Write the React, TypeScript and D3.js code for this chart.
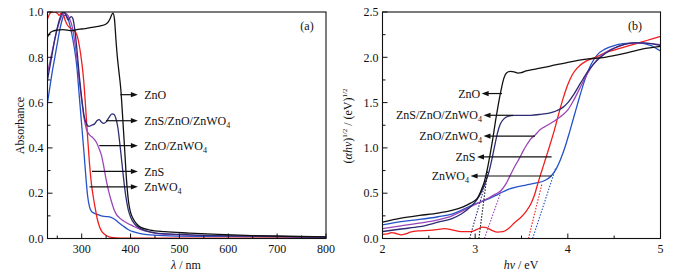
import React from 'react';
import * as d3 from 'd3';

const W = 685, H = 275;
const FONT = '"Liberation Serif", "Times New Roman", serif';

// ---------- Panel (a): UV-vis absorbance ----------
const uvTicksX = [300, 400, 500, 600, 700, 800];
const uvMinorX = [250, 350, 450, 550, 650, 750];
const uvTicksY = [0, 0.2, 0.4, 0.6, 0.8, 1.0];
const uvMinorY = [0.1, 0.3, 0.5, 0.7, 0.9];

const uvZnO: [number, number][] = [
  [230, 0.89], [234, 0.905], [240, 0.915], [250, 0.92], [260, 0.922], [270, 0.92], [280, 0.918],
  [290, 0.922], [300, 0.925], [310, 0.928], [320, 0.932], [330, 0.935], [340, 0.94], [348, 0.945],
  [354, 0.955], [358, 0.97], [362, 0.99], [364, 0.995], [367, 0.97], [370, 0.88], [373, 0.8],
  [376, 0.74], [380, 0.66], [384, 0.53], [388, 0.39], [392, 0.25], [396, 0.16], [400, 0.115],
  [405, 0.088], [412, 0.065], [420, 0.05], [440, 0.037], [470, 0.03], [520, 0.024], [580, 0.018],
  [650, 0.013], [720, 0.01], [800, 0.007],
];
const uvTernary: [number, number][] = [
  [230, 0.70], [235, 0.76], [240, 0.82], [245, 0.88], [250, 0.93], [255, 0.97], [260, 0.995],
  [264, 1.0], [268, 0.985], [272, 0.965], [276, 0.975], [279, 0.98], [282, 0.97], [286, 0.92],
  [290, 0.84], [295, 0.72], [300, 0.62], [305, 0.54], [310, 0.505], [315, 0.495], [320, 0.5],
  [326, 0.505], [331, 0.52], [336, 0.525], [340, 0.515], [345, 0.508], [350, 0.515], [356, 0.535],
  [362, 0.55], [366, 0.548], [370, 0.53], [374, 0.49], [378, 0.42], [382, 0.34], [386, 0.26],
  [390, 0.19], [395, 0.13], [400, 0.095], [408, 0.065], [418, 0.047], [430, 0.035], [450, 0.025],
  [500, 0.018], [600, 0.012], [700, 0.009], [800, 0.006],
];
const uvZnOZnWO4: [number, number][] = [
  [230, 0.73], [235, 0.78], [240, 0.83], [245, 0.88], [250, 0.925], [255, 0.96], [260, 0.985],
  [265, 0.995], [270, 0.99], [275, 0.97], [280, 0.94], [285, 0.88], [290, 0.8], [295, 0.7],
  [300, 0.61], [305, 0.53], [310, 0.48], [315, 0.46], [320, 0.45], [325, 0.44], [330, 0.425],
  [335, 0.4], [340, 0.37], [345, 0.32], [350, 0.26], [355, 0.21], [360, 0.17], [365, 0.135],
  [370, 0.11], [378, 0.09], [390, 0.072], [405, 0.055], [420, 0.04], [440, 0.028], [460, 0.02],
  [500, 0.016], [600, 0.012], [700, 0.009], [800, 0.006],
];
const uvZnS: [number, number][] = [
  [230, 0.97], [234, 0.99], [238, 1.0], [245, 1.0], [250, 0.995], [254, 0.985], [258, 0.995],
  [262, 0.99], [266, 0.965], [270, 0.945], [276, 0.93], [283, 0.92], [290, 0.9], [296, 0.84],
  [300, 0.78], [304, 0.7], [308, 0.58], [312, 0.45], [316, 0.33], [320, 0.24], [324, 0.18],
  [328, 0.13], [332, 0.085], [336, 0.055], [340, 0.035], [346, 0.02], [352, 0.011], [360, 0.005],
  [380, 0.002], [500, 0.002], [800, 0.001],
];
const uvZnWO4: [number, number][] = [
  [230, 0.6], [235, 0.67], [240, 0.74], [245, 0.8], [250, 0.86], [255, 0.92], [260, 0.965],
  [264, 0.985], [268, 0.985], [272, 0.97], [276, 0.94], [280, 0.9], [285, 0.84], [290, 0.76],
  [295, 0.63], [300, 0.5], [305, 0.37], [309, 0.26], [312, 0.19], [316, 0.14], [320, 0.12],
  [325, 0.112], [330, 0.108], [340, 0.1], [350, 0.097], [360, 0.093], [368, 0.084], [376, 0.07],
  [385, 0.055], [395, 0.04], [405, 0.03], [420, 0.022], [440, 0.016], [480, 0.012], [600, 0.009],
  [700, 0.007], [800, 0.005],
];

// ---------- Panel (b): Tauc plot ----------
const tcTicksX = [2, 3, 4, 5];
const tcMinorX = [2.5, 3.5, 4.5];
const tcTicksY = [0, 0.5, 1.0, 1.5, 2.0, 2.5];
const tcMinorY = [0.25, 0.75, 1.25, 1.75, 2.25];

const tcZnO: [number, number][] = [
  [2.0, 0.18], [2.2, 0.225], [2.4, 0.255], [2.6, 0.28], [2.75, 0.31], [2.87, 0.35], [2.95, 0.39],
  [3.02, 0.44], [3.06, 0.52], [3.1, 0.63], [3.13, 0.76], [3.16, 0.92], [3.19, 1.1], [3.22, 1.3],
  [3.25, 1.48], [3.28, 1.64], [3.31, 1.77], [3.34, 1.83], [3.38, 1.845], [3.42, 1.84], [3.46, 1.825],
  [3.5, 1.83], [3.55, 1.85], [3.65, 1.87], [3.8, 1.9], [4.0, 1.945], [4.2, 1.98], [4.4, 2.0],
  [4.6, 2.04], [4.8, 2.09], [5.0, 2.12],
];
const tcTernary: [number, number][] = [
  [2.0, 0.077], [2.2, 0.105], [2.4, 0.13], [2.6, 0.18], [2.75, 0.22], [2.85, 0.27], [2.95, 0.35],
  [3.02, 0.43], [3.07, 0.52], [3.11, 0.62], [3.15, 0.74], [3.18, 0.87], [3.21, 1.02], [3.24, 1.16],
  [3.27, 1.26], [3.31, 1.32], [3.36, 1.35], [3.42, 1.36], [3.5, 1.358], [3.6, 1.36], [3.7, 1.37],
  [3.8, 1.385], [3.88, 1.41], [3.95, 1.45], [4.0, 1.5], [4.07, 1.6], [4.14, 1.72], [4.22, 1.85],
  [4.3, 1.95], [4.4, 2.04], [4.5, 2.1], [4.6, 2.14], [4.7, 2.16], [4.8, 2.16], [4.9, 2.15], [5.0, 2.13],
];
const tcZnOZnWO4: [number, number][] = [
  [2.0, 0.11], [2.2, 0.14], [2.4, 0.17], [2.6, 0.205], [2.75, 0.25], [2.85, 0.3], [2.95, 0.35],
  [3.05, 0.4], [3.15, 0.45], [3.22, 0.49], [3.28, 0.53], [3.33, 0.6], [3.38, 0.7], [3.43, 0.8],
  [3.48, 0.89], [3.52, 0.97], [3.56, 1.04], [3.6, 1.1], [3.645, 1.14], [3.7, 1.2], [3.78, 1.25],
  [3.86, 1.3], [3.94, 1.36], [4.0, 1.42], [4.06, 1.52], [4.13, 1.66], [4.2, 1.8], [4.28, 1.93],
  [4.36, 2.02], [4.45, 2.08], [4.55, 2.12], [4.65, 2.15], [4.8, 2.16], [4.9, 2.15], [5.0, 2.14],
];
const tcZnS: [number, number][] = [
  [2.0, 0.045], [2.05, 0.05], [2.1, 0.065], [2.15, 0.055], [2.2, 0.04], [2.25, 0.05], [2.3, 0.07],
  [2.4, 0.085], [2.5, 0.09], [2.6, 0.1], [2.67, 0.108], [2.75, 0.095], [2.85, 0.075], [2.95, 0.075],
  [3.02, 0.1], [3.08, 0.125], [3.12, 0.12], [3.18, 0.09], [3.24, 0.07], [3.3, 0.075], [3.36, 0.11],
  [3.43, 0.18], [3.5, 0.24], [3.55, 0.3], [3.6, 0.38], [3.64, 0.48], [3.68, 0.62], [3.72, 0.75],
  [3.76, 0.88], [3.8, 1.01], [3.85, 1.18], [3.9, 1.37], [3.95, 1.55], [4.0, 1.7], [4.05, 1.81],
  [4.1, 1.88], [4.2, 1.96], [4.3, 2.0], [4.4, 2.05], [4.5, 2.08], [4.6, 2.11], [4.7, 2.14],
  [4.8, 2.17], [4.9, 2.2], [5.0, 2.23],
];
const tcZnWO4: [number, number][] = [
  [2.0, 0.15], [2.2, 0.187], [2.4, 0.21], [2.6, 0.24], [2.75, 0.27], [2.85, 0.31], [2.95, 0.36],
  [3.05, 0.4], [3.15, 0.44], [3.25, 0.49], [3.35, 0.54], [3.45, 0.57], [3.55, 0.59], [3.65, 0.61],
  [3.75, 0.64], [3.82, 0.69], [3.87, 0.76], [3.92, 0.87], [3.97, 1.01], [4.02, 1.18], [4.07, 1.36],
  [4.12, 1.54], [4.18, 1.74], [4.25, 1.92], [4.32, 2.03], [4.4, 2.09], [4.5, 2.13], [4.6, 2.15],
  [4.75, 2.16], [4.9, 2.13], [4.95, 2.1], [5.0, 2.07],
];

// tangent (extrapolation) lines: [x at 0, x end, y end]
const tangentZnO = [3.04, 3.135, 0.75];
const tangentTernary = [2.94, 3.13, 0.68];
const tangentZnOZnWO4 = [3.1, 3.28, 0.52];
const tangentZnS = [3.575, 3.72, 0.6];
const tangentZnWO4 = [3.62, 3.87, 0.78];

// labels
const seriesNames = ['ZnO', 'ZnS/ZnO/ZnWO4', 'ZnO/ZnWO4', 'ZnS', 'ZnWO4'];
const seriesColors = ['#111111', '#2c2c74', '#9a46b8', '#f01e1e', '#2452c8'];
const uvLabelY = [0.635, 0.52, 0.41, 0.296, 0.228];
const uvArrowFrom = [379, 350, 336, 321, 316];
const uvArrowTip = 415;
const uvTextX = 428;
const tcLabelY = [1.6, 1.36, 1.13, 0.9, 0.69];
const tcArrowTip = [3.07, 3.09, 3.09, 3.02, 2.95];
const tcArrowEnd = [3.29, 3.41, 3.645, 3.825, 3.825];

const uvData = [uvZnO, uvTernary, uvZnOZnWO4, uvZnS, uvZnWO4];
const tcData = [tcZnO, tcTernary, tcZnOZnWO4, tcZnS, tcZnWO4];
const tangents = [tangentZnO, tangentTernary, tangentZnOZnWO4, tangentZnS, tangentZnWO4];

function Label({ name, x, y, anchor }: { name: string; x: number; y: number; anchor: string }) {
  const sub = name.endsWith('WO4');
  const main = sub ? name.slice(0, -1) : name;
  return (
    <text x={x} y={y} dy="0.35em" textAnchor={anchor} fontSize={12} fontFamily={FONT} fill="#111">
      {main}
      {sub && <tspan fontSize={8} dy={3}>4</tspan>}
    </text>
  );
}

function Frame({ x, y, xTicks, xMinor, yTicks, yMinor, xFmt, yFmt }: any) {
  const [x0, x1] = x.range();
  const [y0, y1] = y.range();
  return (
    <g>
      <rect x={x0} y={y1} width={x1 - x0} height={y0 - y1} fill="none" stroke="#111" strokeWidth={1.1} />
      {xTicks.map((t: number) => (
        <g key={'xt' + t}>
          <line x1={x(t)} x2={x(t)} y1={y0} y2={y0 - 5} stroke="#111" />
          <text x={x(t)} y={y0 + 14.5} textAnchor="middle" fontSize={12} fontFamily={FONT} fill="#111">{xFmt(t)}</text>
        </g>
      ))}
      {xMinor.map((t: number) => (
        <line key={'xm' + t} x1={x(t)} x2={x(t)} y1={y0} y2={y0 - 3} stroke="#111" />
      ))}
      {yTicks.map((t: number) => (
        <g key={'yt' + t}>
          <line x1={x0} x2={x0 + 5} y1={y(t)} y2={y(t)} stroke="#111" />
          <text x={x0 - 4} y={y(t)} dy="0.35em" textAnchor="end" fontSize={12} fontFamily={FONT} fill="#111">{yFmt(t)}</text>
        </g>
      ))}
      {yMinor.map((t: number) => (
        <line key={'ym' + t} x1={x0} x2={x0 + 3} y1={y(t)} y2={y(t)} stroke="#111" />
      ))}
    </g>
  );
}

function Arrow({ x1, x2, y, dir }: { x1: number; x2: number; y: number; dir: number }) {
  // x2 = tip; dir = +1 pointing right, -1 pointing left
  const L = 7, hw = 2.6;
  return (
    <g>
      <line x1={x1} x2={x2 - dir * L * 0.6} y1={y} y2={y} stroke="#111" strokeWidth={1.2} />
      <path d={`M${x2},${y} L${x2 - dir * L},${y - hw} L${x2 - dir * L},${y + hw} Z`} fill="#111" />
    </g>
  );
}

export default function App() {
  const xA = d3.scaleLinear().domain([230, 800]).range([47.5, 326]);
  const yA = d3.scaleLinear().domain([0, 1]).range([238.5, 12]);
  const xB = d3.scaleLinear().domain([2, 5]).range([382.5, 660.5]);
  const yB = d3.scaleLinear().domain([0, 2.5]).range([238.5, 12]);

  const lineA = d3.line<[number, number]>().x(d => xA(d[0])).y(d => yA(d[1])).curve(d3.curveMonotoneX);
  const lineB = d3.line<[number, number]>().x(d => xB(d[0])).y(d => yB(d[1])).curve(d3.curveMonotoneX);

  const order = [4, 3, 2, 1, 0];

  return (
    <svg width={W} height={H} style={{ position: 'absolute', left: 0, top: 0, background: '#fff' }}>
      <defs>
        <clipPath id="clipA"><rect x={47.5} y={12} width={326 - 47.5} height={238.5 - 12} /></clipPath>
        <clipPath id="clipB"><rect x={382.5} y={12} width={660.5 - 382.5} height={238.5 - 12} /></clipPath>
      </defs>
      <rect width={W} height={H} fill="#fff" />

      {/* Panel a */}
      <g clipPath="url(#clipA)">
        {order.map(i => (
          <path key={'a' + i} d={lineA(uvData[i]) || ''} fill="none" stroke={seriesColors[i]} strokeWidth={1.3} />
        ))}
      </g>
      <Frame x={xA} y={yA} xTicks={uvTicksX} xMinor={uvMinorX} yTicks={uvTicksY} yMinor={uvMinorY}
        xFmt={(t: number) => String(t)} yFmt={(t: number) => t.toFixed(1)} />
      {seriesNames.map((n, i) => (
        <g key={'la' + i}>
          <Arrow x1={xA(uvArrowFrom[i])} x2={xA(uvArrowTip)} y={yA(uvLabelY[i])} dir={1} />
          <Label name={n} x={xA(uvTextX)} y={yA(uvLabelY[i])} anchor="start" />
        </g>
      ))}
      <text x={307} y={26} dy="0.35em" textAnchor="middle" fontSize={12} fontFamily={FONT} fill="#111">(a)</text>
      <text x={186} y={268.5} textAnchor="middle" fontSize={12} fontFamily={FONT} fill="#111">
        <tspan fontStyle="italic">λ</tspan> / nm
      </text>
      <text transform="translate(24,125.5) rotate(-90)" textAnchor="middle" fontSize={12} fontFamily={FONT} fill="#111">Absorbance</text>

      {/* Panel b */}
      <g clipPath="url(#clipB)">
        {order.map(i => (
          <path key={'b' + i} d={lineB(tcData[i]) || ''} fill="none" stroke={seriesColors[i]} strokeWidth={1.3} />
        ))}
        {tangents.map((t, i) => (
          <line key={'tg' + i} x1={xB(t[0])} y1={yB(0)} x2={xB(t[1])} y2={yB(t[2])}
            stroke={seriesColors[i]} strokeWidth={1.1} strokeDasharray="1.5,1.5" />
        ))}
      </g>
      <Frame x={xB} y={yB} xTicks={tcTicksX} xMinor={tcMinorX} yTicks={tcTicksY} yMinor={tcMinorY}
        xFmt={(t: number) => String(t)} yFmt={(t: number) => t.toFixed(1)} />
      {seriesNames.map((n, i) => (
        <g key={'lb' + i}>
          <Arrow x1={xB(tcArrowEnd[i])} x2={xB(tcArrowTip[i])} y={yB(tcLabelY[i])} dir={-1} />
          <Label name={n} x={xB(tcArrowTip[i]) - 1.5} y={yB(tcLabelY[i])} anchor="end" />
        </g>
      ))}
      <text x={635} y={26} dy="0.35em" textAnchor="middle" fontSize={12} fontFamily={FONT} fill="#111">(b)</text>
      <text x={521} y={268.5} textAnchor="middle" fontSize={12} fontFamily={FONT} fill="#111">
        <tspan fontStyle="italic">hν</tspan> / eV
      </text>
      <text transform="translate(352,126) rotate(-90)" textAnchor="middle" fontSize={12} fontFamily={FONT} fill="#111">
        (<tspan fontStyle="italic">αhν</tspan>)<tspan fontSize={7} dy={-5}>1/2</tspan><tspan dy={5}> / (eV)</tspan><tspan fontSize={7} dy={-5}>1/2</tspan>
      </text>
    </svg>
  );
}
